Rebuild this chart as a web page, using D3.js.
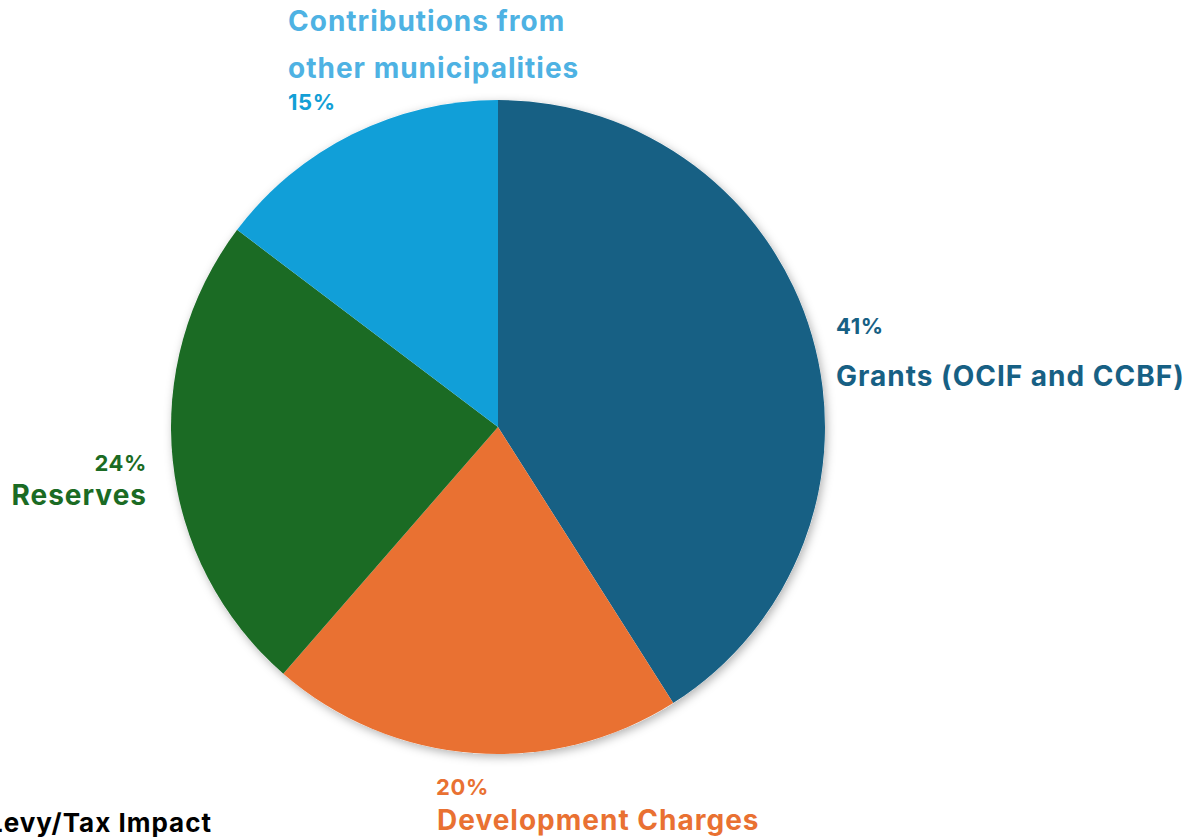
<!DOCTYPE html>
<html>
<head>
<meta charset="utf-8">
<script src="https://cdn.jsdelivr.net/npm/d3@7"></script>
<style>
  body { margin: 0; background: #fff; }
  text { font-family: Inter, "Open Sans", sans-serif; font-weight: 700; }
</style>
</head>
<body>
<div id="chart"></div>
<script>
// funding sources, clockwise from 12 o'clock
const categories = ['Grants (OCIF and CCBF)', 'Development Charges', 'Reserves', 'Contributions from other municipalities', 'Levy/Tax Impact'];
const values = [41, 20.4, 23.9, 14.7, 0];
const colors = ['#176084', '#e97132', '#1b6b24', '#119fd8', '#000000'];
const labelColors = ['#176084', '#e97132', '#1b6b24', '#4eb2e3', '#000000'];
const pctColors = ['#176084', '#e97132', '#1b6b24', '#139fd6', '#000000'];

const width = 1199, height = 838;
const cx = 498, cy = 427, radius = 327;

const svg = d3.select('#chart').append('svg')
  .attr('width', width)
  .attr('height', height);

const defs = svg.append('defs');
const f = defs.append('filter').attr('id', 'shadow')
  .attr('x', '-10%').attr('y', '-10%').attr('width', '120%').attr('height', '120%');
f.append('feDropShadow')
  .attr('dx', 2).attr('dy', 3).attr('stdDeviation', 5)
  .attr('flood-color', '#000').attr('flood-opacity', 0.3);

const data = categories.map((c, i) => ({ name: c, value: values[i], i }));

const pie = d3.pie().sort(null).value(d => d.value);
const arc = d3.arc().innerRadius(0).outerRadius(radius);

const g = svg.append('g')
  .attr('transform', `translate(${cx},${cy})`);

g.append('circle').attr('r', radius).attr('fill', '#fff').attr('filter', 'url(#shadow)');

g.selectAll('path')
  .data(pie(data).filter(d => d.data.value > 0))
  .join('path')
  .attr('d', arc)
  .attr('fill', d => colors[d.data.i]);

// label placement (name lines, percentage, anchor)
const labels = [
  { pct: [836, 334], name: [[836, 386]], lines: ['Grants (OCIF and CCBF)'], anchor: 'start' },
  { pct: [436, 795], name: [[437, 830]], lines: ['Development Charges'], anchor: 'start' },
  { pct: [147, 471], name: [[147, 505]], lines: ['Reserves'], anchor: 'end' },
  { pct: [288, 110], name: [[288, 31], [288, 78]], lines: ['Contributions from', 'other municipalities'], anchor: 'start' },
  { pct: null, name: [[212, 832]], lines: ['Levy/Tax Impact'], anchor: 'end' }
];

labels.forEach((l, i) => {
  if (l.pct) {
    svg.append('text')
      .attr('x', l.pct[0]).attr('y', l.pct[1])
      .attr('text-anchor', l.anchor)
      .attr('fill', pctColors[i])
      .style('font-size', '22px')
      .style('letter-spacing', '0.6px')
      .text(Math.round(values[i]) + '%');
  }
  l.lines.forEach((t, j) => {
    svg.append('text')
      .attr('x', l.name[j][0]).attr('y', l.name[j][1])
      .attr('text-anchor', l.anchor)
      .attr('fill', labelColors[i])
      .style('font-size', i === 4 ? '26px' : '28px')
      .style('letter-spacing', '1px')
      .text(t);
  });
});
</script>
</body>
</html>
